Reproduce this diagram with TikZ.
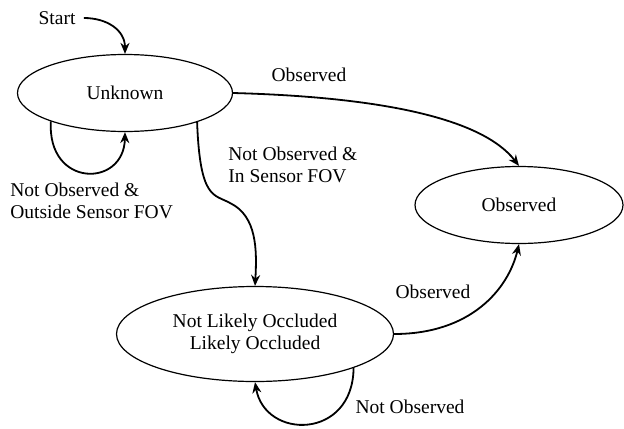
\documentclass[tikz,border=0pt]{standalone}
\usepackage{fontspec}
\setmainfont{Liberation Serif}
\usetikzlibrary{
    arrows.meta,
    positioning,
    shapes.geometric
}

\begin{document}
\begin{tikzpicture}[
    x=0.5pt, y=-0.5pt,
    font=\fontsize{9.75}{11.3}\selectfont,
    state/.style={ellipse, draw, line width=0.6pt, inner sep=0pt, align=center},
    arrow/.style={-{Stealth[length=5.5pt, width=4.5pt]}, line width=0.9pt},
    label/.style={inner sep=1pt, align=left}
]
\useasboundingbox (0,0) rectangle (624,428);

\node[state, minimum width=107.5pt, minimum height=38.5pt] (unknown) at (125,93) {Unknown};
\node[state, minimum width=104pt, minimum height=38.5pt] (observed) at (519,205) {Observed};
\node[state, minimum width=138.5pt, minimum height=47.5pt] (occluded) at (255,334) {Not Likely Occluded\\Likely Occluded};

\node[label, inner xsep=4pt] (start) at (57,18) {Start};
\draw[arrow] (start.east) to[out=0, in=90, looseness=1.1] (unknown.north);

% Unknown
\draw[arrow] (unknown.201) .. controls (47,188) and (124,188) .. (unknown.south);
\node[label, anchor=west] (outfov) at (8,201) {Not Observed \&\\Outside Sensor FOV};

\draw[arrow] (unknown.east) .. controls (380,97) and (482,118) .. (observed.north);
\node[label] (obslbl) at (309,75) {Observed};

\draw[arrow] (unknown.-22) .. controls (200,200) and (214,194) .. (230,203)
    .. controls (257,216) and (257,250) .. (occluded.north);
\node[label, anchor=west] (infov) at (226,165) {Not Observed \&\\In Sensor FOV};

% Occluded
\draw[arrow] (occluded.east) .. controls (470,334) and (508,290) .. (observed.south);
\node[label] (obslbl2) at (433,292) {Observed};

\draw[arrow] (occluded.-19) .. controls (353,440) and (265,440) .. (occluded.south);
\node[label] (notobs) at (410,407) {Not Observed};
\end{tikzpicture}
\end{document}
